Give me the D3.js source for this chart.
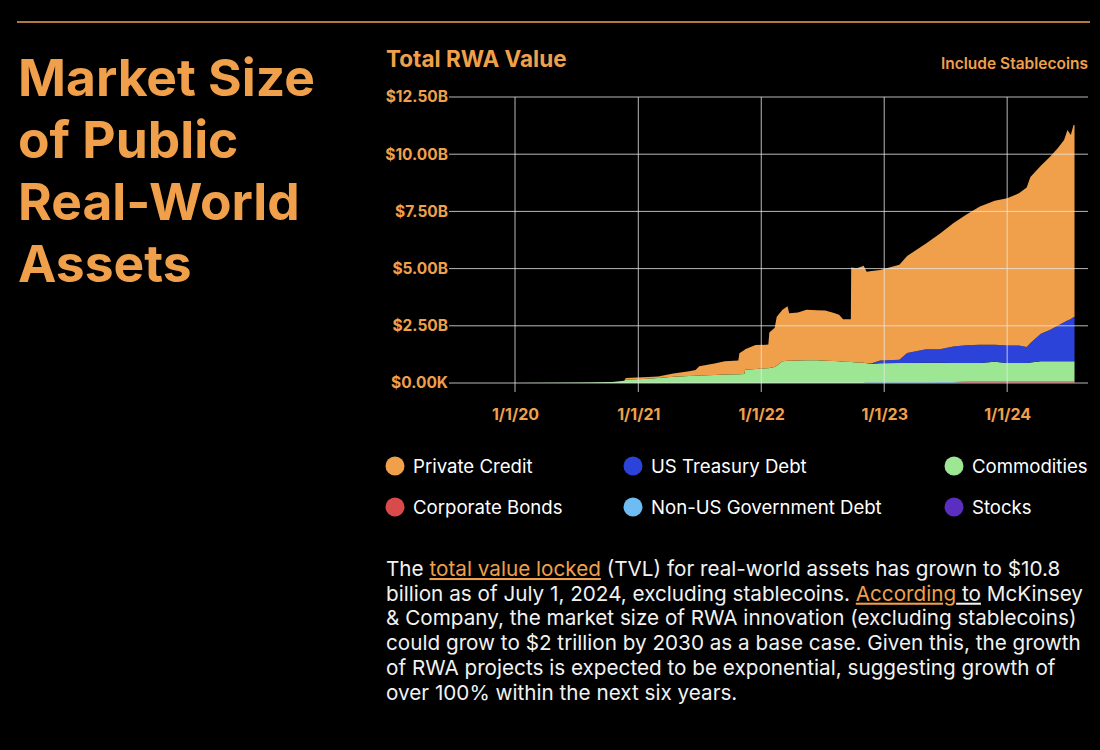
<!DOCTYPE html>
<html>
<head>
<meta charset="utf-8">
<script src="https://cdn.jsdelivr.net/npm/d3@7"></script>
<style>
  html, body { margin: 0; padding: 0; background: #000; }
  svg { display: block; font-family: Inter, 'Noto Sans', sans-serif; }
</style>
</head>
<body>
<svg id="graph" width="1100" height="750"></svg>
<script>
(function() {

  // values in $B
  var dates = ['2020-01-01', '2020-05-01', '2020-08-01', '2020-10-15', '2020-11-20', '2020-11-25',
    '2021-01-15', '2021-03-01', '2021-04-15', '2021-06-01', '2021-06-20', '2021-07-01', '2021-08-15',
    '2021-09-15', '2021-10-25', '2021-10-28', '2021-11-12', '2021-11-14', '2021-12-15', '2022-01-15',
    '2022-01-22', '2022-01-25', '2022-02-10', '2022-02-16', '2022-03-05', '2022-03-20', '2022-03-25',
    '2022-04-20', '2022-05-15', '2022-06-15', '2022-07-10', '2022-08-05', '2022-08-20', '2022-09-01',
    '2022-09-24', '2022-09-25', '2022-10-12', '2022-11-01', '2022-11-10', '2022-11-25', '2022-12-20',
    '2023-02-15', '2023-03-10', '2023-05-05', '2023-06-15', '2023-07-25', '2023-09-01', '2023-10-12',
    '2023-11-25', '2024-01-01', '2024-02-05', '2024-02-28', '2024-03-10', '2024-04-10', '2024-05-08',
    '2024-05-30', '2024-06-18', '2024-06-28', '2024-07-08', '2024-07-16', '2024-07-19'];

  var privateCredit = [0, 0, 0, 0, 0, 0.07,
    0.08, 0.06, 0.15, 0.20, 0.25, 0.40, 0.50,
    0.58, 0.60, 0.92, 1.05, 0.90, 1.05, 1.03,
    1.03, 1.55, 1.72, 2.15, 2.25, 2.38, 2.08,
    2.10, 2.21, 2.19, 2.20, 2.10, 2.03, 1.86,
    1.87, 4.13, 4.12, 4.24, 4.00, 4.04, 3.96,
    4.15, 4.24, 4.63, 5.04, 5.38, 5.70, 6.04,
    6.30, 6.44, 6.65, 6.98, 7.25, 7.34, 7.57,
    7.76, 7.97, 8.33, 8.04, 8.40, 8.40];

  var usTreasury = [0, 0, 0, 0, 0, 0,
    0, 0, 0, 0, 0, 0, 0,
    0, 0, 0, 0, 0, 0, 0,
    0, 0, 0, 0, 0, 0, 0,
    0, 0, 0, 0, 0, 0, 0,
    0, 0, 0, 0, 0, 0.02, 0.12,
    0.15, 0.44, 0.58, 0.59, 0.73, 0.78, 0.80,
    0.74, 0.77, 0.77, 0.70, 0.85, 1.20, 1.38,
    1.55, 1.70, 1.78, 1.85, 1.93, 1.93];

  var commodities = [0.005, 0.01, 0.02, 0.04, 0.10, 0.15,
    0.17, 0.22, 0.27, 0.31, 0.32, 0.33, 0.35,
    0.37, 0.38, 0.38, 0.39, 0.58, 0.61, 0.64,
    0.65, 0.66, 0.70, 0.75, 0.95, 0.97, 0.97,
    0.98, 0.99, 0.99, 0.97, 0.96, 0.95, 0.93,
    0.92, 0.92, 0.90, 0.88, 0.83, 0.81, 0.83,
    0.84, 0.84, 0.86, 0.85, 0.83, 0.82, 0.82,
    0.88, 0.82, 0.82, 0.82, 0.85, 0.90, 0.90,
    0.90, 0.90, 0.90, 0.90, 0.90, 0.90];

  var corporateBonds = [0, 0, 0, 0, 0, 0,
    0, 0, 0, 0, 0, 0, 0,
    0, 0, 0, 0, 0, 0, 0,
    0, 0, 0, 0, 0, 0, 0,
    0, 0, 0, 0, 0, 0, 0,
    0, 0, 0, 0, 0, 0, 0,
    0, 0, 0, 0, 0, 0.04, 0.04,
    0.04, 0.04, 0.04, 0.04, 0.04, 0.04, 0.04,
    0.04, 0.04, 0.04, 0.04, 0.04, 0.04];

  var nonUsGovDebt = [0, 0, 0, 0, 0, 0,
    0, 0, 0, 0, 0, 0, 0,
    0, 0, 0, 0, 0, 0, 0,
    0, 0, 0, 0, 0, 0, 0,
    0, 0, 0, 0, 0, 0, 0,
    0, 0, 0, 0, 0.03, 0.03, 0.03,
    0.03, 0.03, 0.03, 0.03, 0.03, 0, 0,
    0, 0, 0, 0, 0, 0, 0,
    0, 0, 0, 0, 0, 0];

  var stocks = [0, 0, 0, 0, 0, 0,
    0, 0, 0, 0, 0, 0, 0,
    0, 0, 0, 0, 0, 0, 0,
    0, 0, 0, 0, 0, 0, 0,
    0, 0, 0, 0, 0, 0, 0,
    0, 0, 0, 0, 0, 0, 0,
    0, 0, 0, 0.01, 0.01, 0.01, 0.01,
    0.01, 0.01, 0.01, 0.01, 0.01, 0.01, 0.01,
    0.01, 0.01, 0.01, 0.01, 0.01, 0.01];

  var seriesNames = ['Private Credit', 'US Treasury Debt', 'Commodities',
    'Corporate Bonds', 'Non-US Government Debt', 'Stocks'];
  var seriesColors = ['#f0a04b', '#2b43d8', '#9de694', '#d94a4a', '#6ebcf2', '#5a2ec0'];
  var stackOrder = ['Stocks', 'Non-US Government Debt', 'Corporate Bonds', 'Commodities',
    'US Treasury Debt', 'Private Credit'];

  var yTicks = [0, 2.5, 5, 7.5, 10, 12.5];
  var xTicks = ['2020-01-01', '2021-01-01', '2022-01-01', '2023-01-01', '2024-01-01'];

  var paragraph = [
    [['The ', 'text'], ['total value locked', 'link'], [' (TVL) for real-world assets has grown to $10.8', 'text']],
    [['billion as of July 1, 2024, excluding stablecoins. ', 'text'], ['According', 'link'], [' to', 'under'], [' McKinsey', 'text']],
    [['& Company, the market size of RWA innovation (excluding stablecoins)', 'text']],
    [['could grow to $2 trillion by 2030 as a base case. Given this, the growth', 'text']],
    [['of RWA projects is expected to be exponential, suggesting growth of', 'text']],
    [['over 100% within the next six years.', 'text']]
  ];

  var ORANGE = '#f0a04b';
  var parseDate = d3.timeParse('%Y-%m-%d');

  var table = dates.map(function(d, i) {
    return {
      date: parseDate(d),
      'Private Credit': privateCredit[i],
      'US Treasury Debt': usTreasury[i],
      'Commodities': commodities[i],
      'Corporate Bonds': corporateBonds[i],
      'Non-US Government Debt': nonUsGovDebt[i],
      'Stocks': stocks[i]
    };
  });

  var svg = d3.select('#graph');

  // top rule
  svg.append('line')
    .attr('x1', 17).attr('x2', 1090)
    .attr('y1', 22).attr('y2', 22)
    .attr('stroke', ORANGE)
    .attr('stroke-width', 1.5);

  // big heading
  var heading = svg.append('text')
    .attr('x', 18)
    .attr('fill', ORANGE)
    .attr('font-size', 51.5)
    .attr('font-weight', 700);
  ['Market Size', 'of Public', 'Real-World', 'Assets'].forEach(function(t, i) {
    heading.append('tspan').attr('x', 18).attr('y', 96 + i * 62).text(t);
  });

  svg.append('text')
    .attr('x', 386).attr('y', 67)
    .attr('fill', ORANGE)
    .attr('font-size', 22.5)
    .attr('font-weight', 700)
    .text('Total RWA Value');

  svg.append('text')
    .attr('x', 1088).attr('y', 69)
    .attr('text-anchor', 'end')
    .attr('fill', ORANGE)
    .attr('font-size', 15.5)
    .attr('font-weight', 600)
    .text('Include Stablecoins');

  var x = d3.scaleTime()
    .domain([parseDate('2019-06-19'), parseDate('2024-08-28')])
    .range([449, 1088]);
  var y = d3.scaleLinear()
    .domain([0, 12.5])
    .range([383, 97]);

  var color = d3.scaleOrdinal().domain(seriesNames).range(seriesColors);

  var stacked = d3.stack().keys(stackOrder)(table);
  var area = d3.area()
    .x(function(d) { return x(d.data.date); })
    .y0(function(d) { return y(d[0]); })
    .y1(function(d) { return y(d[1]); });

  svg.append('g')
    .selectAll('path')
    .data(stacked)
    .join('path')
    .attr('d', area)
    .attr('fill', function(d) { return color(d.key); });

  // grid on top of the areas
  var grid = svg.append('g').attr('stroke', '#e6e6e6').attr('stroke-opacity', 0.8);
  grid.selectAll('.hline')
    .data(yTicks)
    .join('line')
    .attr('class', 'hline')
    .attr('x1', 449).attr('x2', 1088)
    .attr('y1', function(d) { return y(d); })
    .attr('y2', function(d) { return y(d); });
  grid.selectAll('.vline')
    .data(xTicks.map(parseDate))
    .join('line')
    .attr('class', 'vline')
    .attr('x1', function(d) { return x(d); })
    .attr('x2', function(d) { return x(d); })
    .attr('y1', 97).attr('y2', 392);

  var yAxis = d3.axisLeft(y)
    .tickValues(yTicks)
    .tickSize(0)
    .tickPadding(0)
    .tickFormat(function(d) { return d === 0 ? '$0.00K' : '$' + d3.format('.2f')(d) + 'B'; });
  svg.append('g')
    .attr('transform', 'translate(448,0)')
    .call(yAxis)
    .call(function(g) { g.select('.domain').remove(); })
    .selectAll('text')
    .attr('fill', ORANGE)
    .attr('font-size', 15.5)
    .attr('font-weight', 700)
    .attr('font-family', 'Inter, sans-serif');

  var xAxis = d3.axisBottom(x)
    .tickValues(xTicks.map(parseDate))
    .tickSize(0)
    .tickPadding(0)
    .tickFormat(d3.timeFormat('%-m/%-d/%y'));
  svg.append('g')
    .attr('transform', 'translate(0,409)')
    .call(xAxis)
    .call(function(g) { g.select('.domain').remove(); })
    .selectAll('text')
    .attr('fill', ORANGE)
    .attr('font-size', 16)
    .attr('font-weight', 700)
    .attr('font-family', 'Inter, sans-serif');

  // legend
  var legendX = [395, 633, 954];
  var legend = svg.append('g')
    .selectAll('g')
    .data(seriesNames)
    .join('g')
    .attr('transform', function(d, i) {
      return 'translate(' + legendX[i % 3] + ',' + (466 + Math.floor(i / 3) * 41) + ')';
    });
  legend.append('circle')
    .attr('r', 9.5)
    .attr('fill', function(d) { return color(d); });
  legend.append('text')
    .attr('x', 18)
    .attr('y', 6.5)
    .attr('fill', '#fff')
    .attr('font-size', 18.6)
    .text(function(d) { return d; });

  // body text
  var body = svg.append('text')
    .attr('font-size', 20.7)
    .attr('fill', '#f2f2f2');
  paragraph.forEach(function(line, i) {
    var first = true;
    line.forEach(function(part) {
      var ts = body.append('tspan').text(part[0]);
      if (first) {
        ts.attr('x', 386).attr('y', 576 + i * 24.7);
        first = false;
      }
      if (part[1] === 'link') {
        ts.attr('fill', ORANGE).style('text-decoration', 'underline');
      } else if (part[1] === 'under') {
        ts.style('text-decoration', 'underline');
      }
    });
  });

})();
</script>
</body>
</html>
